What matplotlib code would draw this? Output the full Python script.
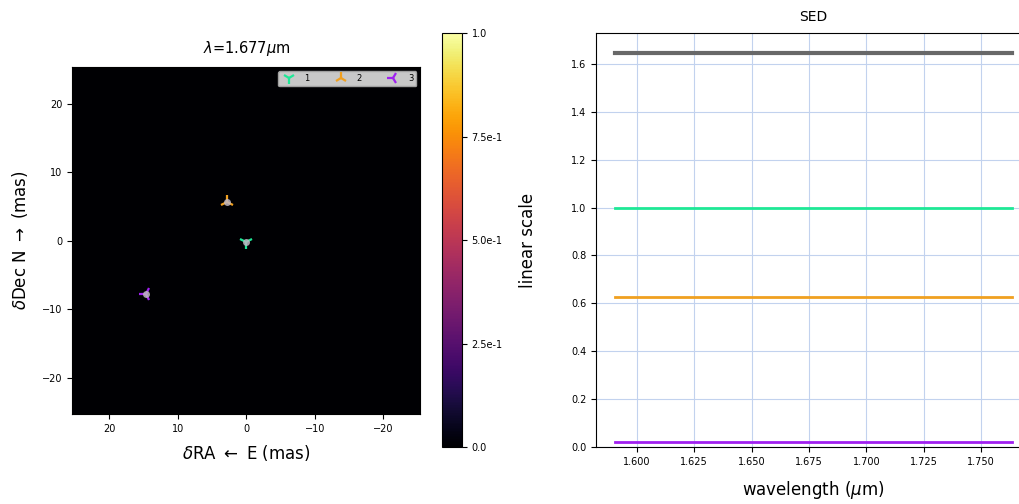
import numpy as np
import matplotlib
matplotlib.use("Agg")
import matplotlib.pyplot as plt
from matplotlib.ticker import FixedLocator, FixedFormatter

# Point sources (mas) and their SED levels
src_names = ["1", "2", "3"]
src_ra = [0.0, 2.8, 14.6]
src_dec = [-0.2, 5.7, -7.8]
src_markers = ["1", "2", "3"]
src_colors = ["#1ee896", "#f0a020", "#a020f0"]
src_flux = [1.0, 0.625, 0.02]
total_flux = 1.645

wavelength = [1.5904, 1.7635]
cbar_ticks = [0.0, 0.25, 0.5, 0.75, 1.0]
cbar_labels = ["0.0", "2.5e-1", "5.0e-1", "7.5e-1", "1.0"]
fov = 25.4

fig = plt.figure(figsize=(10.2, 5.04), dpi=100)

# Image panel
ax1 = fig.add_axes([0.0706, 0.1786, 0.342, 0.688])
image = np.zeros((64, 64))
im = ax1.imshow(image, cmap="inferno", vmin=0, vmax=1, origin="lower",
                extent=(fov, -fov, -fov, fov))
for ra, dec, m, c, name in zip(src_ra, src_dec, src_markers, src_colors, src_names):
    ax1.plot(ra, dec, m, ms=10, mew=1.6, color=c, label=name, ls="none")
    ax1.plot(ra, dec, "o", ms=5, color="#c0b8c4", alpha=0.85, mec="none")
ax1.set_xlim(fov, -fov)
ax1.set_ylim(-25.3, 25.3)
ax1.set_title(r"$\lambda$=1.677$\mu$m", fontsize=10.5, pad=10)
ax1.set_xlabel(r"$\delta$RA $\leftarrow$ E (mas)", fontsize=12, labelpad=7)
ax1.set_ylabel(r"$\delta$Dec N $\rightarrow$ (mas)", fontsize=12, labelpad=9)
ax1.tick_params(labelsize=7)
leg = ax1.legend(loc="upper right", ncol=3, fontsize=6, frameon=True,
                 facecolor="#c8c8c8", edgecolor="#a0a0a0", framealpha=1,
                 borderpad=0.35, handletextpad=0.8, columnspacing=2.8,
                 markerscale=0.9)

# Colorbar
cax = fig.add_axes([0.4333, 0.1131, 0.0196, 0.8214])
cb = fig.colorbar(im, cax=cax)
cb.ax.yaxis.set_major_locator(FixedLocator(cbar_ticks))
cb.ax.yaxis.set_major_formatter(FixedFormatter(cbar_labels))
cb.ax.tick_params(labelsize=7)
cb.set_label("linear scale", fontsize=12, labelpad=12)

# SED panel
ax2 = fig.add_axes([0.5843, 0.1131, 0.4265, 0.8214])
ax2.plot(wavelength, [total_flux] * len(wavelength), color="#686868", lw=3)
for f, c in zip(src_flux, src_colors):
    ax2.plot(wavelength, [f] * len(wavelength), color=c, lw=2)
ax2.set_xlim(1.5822, 1.7717)
ax2.set_ylim(0, 1.729)
ax2.set_xticks([1.600, 1.625, 1.650, 1.675, 1.700, 1.725, 1.750])
ax2.set_yticks([0.0, 0.2, 0.4, 0.6, 0.8, 1.0, 1.2, 1.4, 1.6])
ax2.xaxis.set_major_formatter(plt.FormatStrFormatter("%.3f"))
ax2.yaxis.set_major_formatter(plt.FormatStrFormatter("%.1f"))
ax2.grid(True, color="#c2d2ee", lw=0.8)
ax2.set_axisbelow(True)
ax2.tick_params(labelsize=7)
ax2.set_title("SED", fontsize=10, pad=9)
ax2.set_xlabel(r"wavelength ($\mu$m)", fontsize=12, labelpad=9)

fig.savefig("out.png", dpi=100)
